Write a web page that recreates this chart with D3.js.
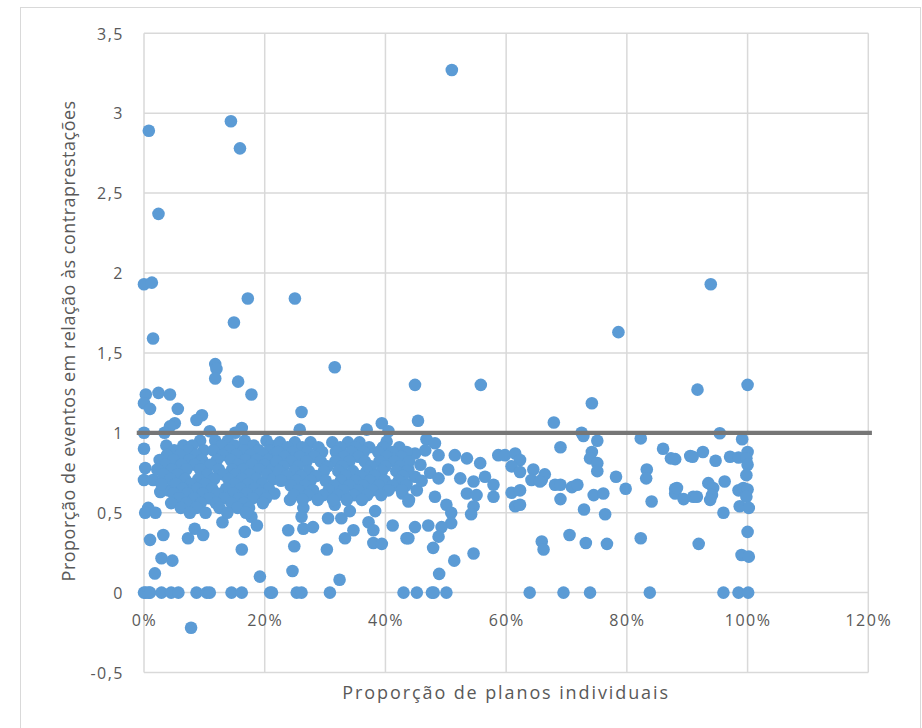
<!DOCTYPE html>
<html><head><meta charset="utf-8">
<script src="https://cdn.jsdelivr.net/npm/d3@7"></script>
<style>
body{margin:0;background:#fff}
svg{display:block}
text{font-family:"Open Sans",sans-serif;fill:#595959}
</style>
</head><body>
<svg id="chart" width="922" height="728"></svg>
<script>
// ---------- DATA ----------
const xTicks = [0, 20, 40, 60, 80, 100, 120];
const xTickLabels = ["0%", "20%", "40%", "60%", "80%", "100%", "120%"];
const yTicks = [-0.5, 0, 0.5, 1, 1.5, 2, 2.5, 3, 3.5];
const yTickLabels = ["-0,5", "0", "0,5", "1", "1,5", "2", "2,5", "3", "3,5"];
const xTitle = "Proporção de planos individuais";
const yTitle = "Proporção de eventos em relação às contraprestações";
const refLine = [[-1.2, 1], [120.6, 1]];

// [x %, y]
const highPoints = [[51.0,3.27],[0.8,2.89],[14.4,2.95],[15.9,2.78],[2.4,2.37],[0,1.93],[1.3,1.94],[17.2,1.84],[25.0,1.84],[14.9,1.69],[1.5,1.59],[11.8,1.43],[12.0,1.40],[11.8,1.34],[15.6,1.32],[0.3,1.24],[2.4,1.25],[4.3,1.24],[17.8,1.24],[31.6,1.41],[44.9,1.30],[55.8,1.30],[74.2,1.185],[78.6,1.63],[93.9,1.93],[91.7,1.27],[100,1.30]];
const nearLinePoints = [[0,1.185],[1.0,1.15],[5.6,1.15],[9.6,1.11],[8.7,1.08],[5.1,1.06],[4.3,1.04],[0,1.0],[3.4,1.0],[10.9,1.01],[16.2,1.03],[15.1,1.0],[0,0.90],[3.7,0.92],[26.1,1.13],[25.8,1.02],[39.4,1.06],[40.5,1.01],[36.9,1.02],[40.2,0.945],[45.4,1.075],[46.8,0.96],[48.2,0.935],[67.9,1.064],[72.5,1.0],[72.8,0.98],[75.1,0.95],[82.3,0.965],[95.4,0.997],[99.1,0.96]];
const leftEdgePoints = [[0.2,0.78],[0,0.705],[1.5,0.705],[2.7,0.78],[2.7,0.63],[4.0,0.64],[0.7,0.53],[0.2,0.50],[1.9,0.50]];
const lowPoints = [[13.0,0.44],[17.8,0.475],[18.7,0.42],[16.7,0.38],[8.4,0.40],[9.8,0.36],[7.3,0.34],[3.2,0.36],[1.0,0.33],[16.2,0.27],[2.9,0.215],[4.7,0.20],[1.8,0.12],[19.2,0.10],[26.4,0.53],[26.1,0.475],[24.2,0.58],[31.6,0.55],[30.5,0.465],[32.7,0.465],[34.1,0.51],[26.4,0.40],[28.0,0.41],[23.9,0.39],[34.7,0.39],[33.3,0.34],[37.2,0.44],[38.3,0.51],[38.0,0.39],[38.0,0.31],[39.4,0.305],[41.2,0.42],[43.5,0.34],[24.9,0.29],[30.3,0.27],[24.6,0.135],[32.4,0.08],[7.8,-0.22]];
const midPoints = [[44.9,0.87],[46.6,0.89],[48.8,0.86],[51.5,0.86],[53.5,0.84],[55.7,0.81],[58.7,0.86],[59.8,0.86],[61.5,0.87],[62.3,0.83],[64.5,0.77],[65.9,0.705],[43.8,0.77],[44.9,0.725],[47.4,0.75],[48.8,0.715],[50.4,0.77],[52.4,0.715],[54.6,0.695],[56.5,0.725],[57.9,0.675],[60.9,0.79],[62.3,0.755],[64.2,0.705],[43.8,0.57],[45.2,0.64],[48.2,0.60],[53.5,0.62],[55.1,0.61],[57.9,0.60],[60.9,0.625],[62.3,0.64],[50.1,0.55],[50.9,0.50],[50.9,0.435],[49.3,0.41],[54.6,0.54],[54.2,0.49],[61.5,0.54],[62.3,0.55],[44.9,0.41],[43.8,0.34],[47.1,0.42],[48.8,0.35],[47.9,0.28],[51.4,0.20],[54.6,0.245],[48.9,0.117],[65.9,0.32],[66.2,0.27],[42.5,0.82],[43.5,0.68],[45.8,0.80],[42.8,0.62],[46.0,0.70]];
const rightPoints = [[69.0,0.91],[74.2,0.88],[73.9,0.84],[75.1,0.81],[75.1,0.76],[86.0,0.90],[87.3,0.84],[83.3,0.77],[83.2,0.715],[78.2,0.725],[66.4,0.74],[65.6,0.695],[68.1,0.675],[69.0,0.675],[70.9,0.66],[71.8,0.675],[79.8,0.65],[74.5,0.61],[76.1,0.62],[69.0,0.585],[84.1,0.57],[88.0,0.65],[88.0,0.62],[72.9,0.52],[76.4,0.49],[70.5,0.36],[73.2,0.31],[76.7,0.305],[82.3,0.34],[88.0,0.835],[90.5,0.855],[90.9,0.85],[92.6,0.88],[94.7,0.825],[97.1,0.85],[98.5,0.845],[100,0.88],[99.8,0.84],[100,0.80],[99.8,0.735],[88.3,0.655],[89.4,0.585],[91.0,0.60],[91.6,0.60],[93.5,0.685],[94.3,0.655],[94.1,0.61],[93.8,0.58],[96.2,0.695],[98.5,0.64],[99.3,0.655],[100,0.645],[99.8,0.60],[98.7,0.54],[100.2,0.53],[96.0,0.50],[100,0.38],[91.9,0.305],[99.0,0.235],[100.2,0.225]];
const zeroXs = [0,0.3,0.8,1.0,2.9,4.5,5.7,8.7,10.4,10.9,14.5,16.2,20.9,21.2,25.3,26.1,30.8,43.0,45.2,47.7,48.0,50.1,63.9,69.5,73.9,83.8,96.0,98.5,100.1];
// dense band, rows: [y, [x % ...]]
const clusterLeftRows = [
  [0.95,[9.3,11.8,13.9,16.7,20.3]],
  [0.92,[6.5,8.0,12.9,15.0,18.2,21.0]],
  [0.89,[5.0,7.3,9.9,11.5,14.2,16.5,19.0,20.8]],
  [0.86,[3.8,6.0,8.6,13.0,15.3,17.6,19.8,21.5]],
  [0.83,[2.6,4.9,7.5,9.6,12.1,14.4,16.8,18.7,20.6]],
  [0.80,[3.5,6.2,8.4,11.0,15.6,17.9,20.0,21.8]],
  [0.77,[2.2,4.6,7.0,9.3,12.4,14.6,16.4,19.1,21.2]],
  [0.74,[3.2,5.6,10.5,13.1,15.2,17.5,20.4]],
  [0.71,[4.4,6.8,9.0,11.6,14.0,16.2,18.6,21.4]],
  [0.68,[2.9,5.3,7.8,10.1,15.0,17.2,19.6]],
  [0.65,[6.4,8.8,11.3,13.6,16.0,18.3,20.7]],
  [0.62,[4.9,7.2,9.7,12.2,14.8,17.0,19.3,21.6]],
  [0.59,[5.8,8.3,10.8,13.3,15.7,18.0,20.2]],
  [0.56,[4.5,7.0,9.4,11.9,14.5,16.6,19.7]],
  [0.53,[6.1,8.7,12.5,15.5,17.4]],
  [0.50,[7.6,10.2,13.8,16.9]]
];
const clusterRightRows = [
  [0.94,[22.5,25.0,27.6,31.2,33.8,35.7]],
  [0.91,[23.8,26.2,28.9,32.5,35.0,37.3,39.6,42.3]],
  [0.88,[22.2,24.6,27.1,29.5,31.8,34.3,36.4,38.8,41.1,43.5]],
  [0.85,[23.3,25.8,28.2,33.1,35.5,40.2,42.6]],
  [0.82,[22.0,24.4,26.9,29.3,31.7,34.0,36.6,39.0,41.5,43.9]],
  [0.79,[23.1,25.5,30.4,32.8,37.6,40.0,42.4]],
  [0.76,[22.4,24.9,27.3,29.8,32.2,34.6,36.9,39.4,41.8,43.6]],
  [0.73,[23.6,26.0,28.5,33.4,35.9,38.2,42.9]],
  [0.70,[22.7,25.2,27.6,30.1,32.6,35.0,37.4,39.9,42.2]],
  [0.67,[24.3,26.7,31.5,34.0,36.3,38.9,41.2,43.4]],
  [0.64,[25.6,28.0,30.6,33.0,35.5,37.8,40.5,42.7]],
  [0.61,[24.8,27.2,29.7,32.1,34.8,37.0,39.3]],
  [0.58,[26.3,28.8,31.3,33.6,36.1,43.9]]
];

// ---------- CHART ----------
const W = 922, H = 728;
const margin = {left: 144, top: 33.3, right: 53.7, bottom: 55.5};
const svg = d3.select("#chart");

svg.append("rect").attr("x", 20.5).attr("y", 7.5).attr("width", 900).attr("height", 740)
  .attr("fill", "#fff").attr("stroke", "#d9d9d9").attr("stroke-width", 1);

const x = d3.scaleLinear().domain([0, 120]).range([margin.left, W - margin.right]);
const y = d3.scaleLinear().domain([-0.5, 3.5]).range([H - margin.bottom, margin.top]);

// gridlines
const g = svg.append("g");
g.selectAll("line.h").data(yTicks).join("line")
  .attr("x1", x(0)).attr("x2", x(120))
  .attr("y1", d => y(d)).attr("y2", d => y(d))
  .attr("stroke", "#d9d9d9").attr("stroke-width", 1.5);
g.selectAll("line.v").data(xTicks).join("line")
  .attr("y1", y(-0.5)).attr("y2", y(3.5))
  .attr("x1", d => x(d)).attr("x2", d => x(d))
  .attr("stroke", "#d9d9d9").attr("stroke-width", 1.5);

// axes (labels only)
const xAxis = d3.axisBottom(x).tickValues(xTicks).tickSize(0).tickPadding(0)
  .tickFormat((d, i) => xTickLabels[i]);
const xa = svg.append("g").attr("transform", `translate(0,${y(0)})`).call(xAxis);
xa.select(".domain").remove();
xa.selectAll("text").attr("y", 33).attr("dy", 0).attr("font-size", 16)
  .style("font-family", '"Open Sans",sans-serif').style("letter-spacing", "1.5px").attr("fill", "#595959");

const yAxis = d3.axisLeft(y).tickValues(yTicks).tickSize(0).tickPadding(20)
  .tickFormat((d, i) => yTickLabels[i]);
const ya = svg.append("g").attr("transform", `translate(${x(0)},0)`).call(yAxis);
ya.select(".domain").remove();
ya.selectAll("text").attr("font-size", 16).attr("dy", "0.36em")
  .style("font-family", '"Open Sans",sans-serif').style("letter-spacing", "1.5px").attr("fill", "#595959");

// points
const all = [].concat(
  highPoints, nearLinePoints, leftEdgePoints, lowPoints, midPoints, rightPoints,
  zeroXs.map(v => [v, 0]),
  ...clusterLeftRows.map(r => r[1].map(v => [v, r[0]])),
  ...clusterRightRows.map(r => r[1].map(v => [v, r[0]]))
);
svg.append("g").selectAll("circle").data(all).join("circle")
  .attr("cx", d => x(d[0])).attr("cy", d => y(d[1])).attr("r", 6.3)
  .attr("fill", "#5B9BD5");

// reference line at 1
svg.append("path").datum(refLine)
  .attr("d", d3.line().x(d => x(d[0])).y(d => y(d[1])))
  .attr("stroke", "#767676").attr("stroke-width", 4.2).attr("fill", "none");

// titles
svg.append("text").attr("x", (x(0) + x(120)) / 2).attr("y", 699)
  .attr("text-anchor", "middle").attr("font-size", 18).style("letter-spacing", "1.9px")
  .text(xTitle);
svg.append("text").attr("transform", `translate(75,${(y(-0.5) + y(3.5)) / 2 - 12}) rotate(-90)`)
  .attr("text-anchor", "middle").attr("font-size", 18).style("letter-spacing", "0.5px")
  .text(yTitle);
</script>
</body></html>
